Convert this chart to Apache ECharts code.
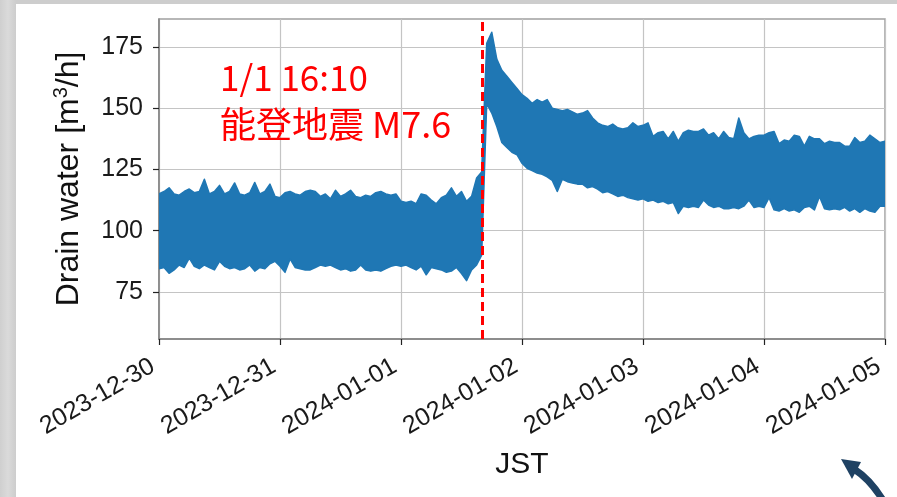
<!DOCTYPE html>
<html>
<head>
<meta charset="utf-8">
<script src="https://cdn.jsdelivr.net/npm/echarts@6/dist/echarts.min.js"></script>
<style>
  html, body { margin: 0; padding: 0; }
  body { width: 897px; height: 497px; position: relative; overflow: hidden;
         background: linear-gradient(90deg, #cfcfcf 0px, #dadada 8px, #cdcdcd 16px); }
  #panel { position: absolute; left: 16px; top: 4px; width: 881px; height: 493px; background: #ffffff; }
  #chart { position: absolute; left: 0; top: 0; width: 897px; height: 497px; }
</style>
</head>
<body>
<div id="panel"></div>
<div id="chart"></div>
<script>
// Drain water flow, hourly min / max, hours counted from 2023-12-30 00:00 JST
const dateTicks = ['2023-12-30', '2023-12-31', '2024-01-01', '2024-01-02', '2024-01-03', '2024-01-04', '2024-01-05'];
const yTicks = [75, 100, 125, 150, 175];
const yMin = 55.8;
const yMax = 186.4;
const quakeHour = 64 + 10 / 60; // 2024-01-01 16:10

const hiValues = [
  115, 116, 117.5, 115, 114.5, 116, 117, 115.5, 116, 121,
  115, 116, 118.5, 115, 116, 119.5, 115, 114.5, 115.5, 119.7,
  115, 116, 119, 114, 113.5, 115.5, 116, 115, 114.5, 116,
  116.5, 116, 114, 115, 113, 116.5, 114, 115, 116.5, 114,
  113.5, 114.5, 114, 115.5, 116, 115, 114.5, 115, 112, 111.5,
  112, 111, 115, 114.5, 112.5, 111, 113.5, 114.5, 117.5, 114,
  116, 112, 114, 121.5, 124,
  176.5, 181, 170, 165.5, 163, 160.5, 158, 155.5, 154, 152,
  153.5, 152.5, 153.5, 150, 149.5, 149, 149.5, 148.5, 147.5, 148,
  149, 146, 144, 143, 142.5, 143.5, 142, 141.5, 142, 144,
  142.5, 143, 144, 138.5, 140, 140.5, 137.5, 140.5, 136.5, 140,
  141, 140.5, 140.5, 141.5, 139, 140, 137.5, 140.5, 138, 137.5,
  146, 140, 137.5, 138.5, 139, 139, 140, 140.5, 135.5, 137,
  136.5, 139, 138.5, 134.5, 138.5, 137.5, 137.5, 135.5, 136.5, 136,
  136, 134.5, 134.5, 138, 136, 136.5, 139, 137.5, 136, 136.5
];

const loValues = [
  84.5, 85, 82.6, 84, 86, 85, 88.8, 85.5, 84.5, 86,
  85, 84, 87.5, 85.5, 84.5, 85, 84, 84.5, 86, 83.5,
  85, 84.5, 86.5, 87.5, 85.5, 83, 88.5, 85, 84.5, 84,
  84, 85, 86, 85.5, 86, 85, 84, 84.5, 83.5, 84,
  86, 84, 83.5, 84, 83.5, 84.5, 85.5, 86, 85.5, 86,
  85, 84, 85.5, 82, 85, 84.5, 84, 83, 83.5, 85,
  82.5, 79.6, 84, 86, 90,
  152, 148, 142.5, 136, 134, 132, 131, 127.5, 125.5, 124.5,
  123.5, 123, 122, 120.5, 116, 121, 120, 119.5, 119, 119,
  117.5, 118, 117, 115.5, 116, 115, 114, 114.5, 113.5, 113,
  112.5, 113, 112, 112.5, 111.5, 112, 111, 111.5, 107, 110,
  109.5, 110, 109.5, 112.5, 110.5, 109.5, 110, 109, 109, 109.5,
  109, 110, 112.5, 109.5, 110, 109.5, 113.5, 108.5, 108, 109,
  108, 108.5, 107.5, 109.5, 110, 108.5, 114, 109, 108.5, 109,
  108.5, 109.5, 108, 109, 107.5, 109, 108, 107.5, 110, 110
];

const lineBlue = '#1f77b4';
const bandData = hiValues.map((h, i) => [i, loValues[i], h]);

const chart = echarts.init(document.getElementById('chart'), null, { renderer: 'canvas' });

const tickFont = { fontFamily: 'Liberation Sans', fontSize: 25, color: '#1a1a1a' };

// The min/max envelope is drawn as a single filled polygon: upper edge left to right,
// lower edge back right to left.
function renderBand(params, api) {
  if (params.dataIndex !== 0) return null;
  const upper = bandData.map(d => api.coord([d[0], d[2]]));
  const lower = bandData.map(d => api.coord([d[0], d[1]])).reverse();
  return {
    type: 'polygon',
    shape: { points: upper.concat(lower) },
    style: { fill: lineBlue, stroke: lineBlue, lineWidth: 1.5, lineJoin: 'round' }
  };
}

chart.setOption({
  animation: false,
  backgroundColor: 'transparent',
  grid: {
    left: 159, right: 12, top: 19, bottom: 158,
    show: true, borderColor: '#a0a0a0', borderWidth: 1.5, backgroundColor: 'transparent'
  },
  xAxis: {
    type: 'value', min: 0, max: 144, interval: 24,
    name: 'JST', nameLocation: 'middle', nameGap: 111,
    nameTextStyle: { fontFamily: 'Liberation Sans', fontSize: 30, color: '#111' },
    axisLine: { show: true, lineStyle: { color: '#808080', width: 1.5 } },
    axisTick: { show: true, length: 6, lineStyle: { color: '#222', width: 1.2 } },
    axisLabel: Object.assign({
      rotate: 30, margin: 22, padding: [0, 7, 0, 0],
      formatter: v => dateTicks[Math.round(v / 24)]
    }, tickFont),
    splitLine: { show: true, lineStyle: { color: '#c4c4c4', width: 1.2 } }
  },
  yAxis: {
    type: 'value', min: yMin, max: yMax,
    name: 'Drain water [m{sup|3}/h]', nameLocation: 'middle', nameGap: 72, nameRotate: 90,
    nameTextStyle: {
      fontFamily: 'Liberation Sans', fontSize: 32, color: '#111',
      rich: { sup: { fontFamily: 'Liberation Sans', fontSize: 20, color: '#111', verticalAlign: 'top', lineHeight: 36 } }
    },
    axisLine: { show: true, lineStyle: { color: '#808080', width: 1.5 } },
    axisTick: { show: true, length: 6, customValues: yTicks, lineStyle: { color: '#222', width: 1.2 } },
    axisLabel: Object.assign({ margin: 16, customValues: yTicks }, tickFont),
    splitLine: { show: true, lineStyle: { color: '#c4c4c4', width: 1.2 } }
  },
  series: [
    {
      type: 'custom',
      clip: true,
      data: bandData,
      encode: { x: 0, y: [1, 2] },
      renderItem: renderBand,
      z: 2
    },
    {
      type: 'line',
      data: [[quakeHour, yMin], [quakeHour, yMax]],
      symbol: 'none',
      lineStyle: { color: '#ff0000', width: 3, type: [9, 5] },
      z: 5
    }
  ],
  graphic: [
    {
      type: 'text', x: 220, y: 78, z: 10,
      style: { text: '1/1 16:10', fontSize: 35, fontFamily: 'Noto Sans CJK JP', fill: '#ff0000', align: 'left', verticalAlign: 'middle' }
    },
    {
      type: 'text', x: 220, y: 124, z: 10,
      style: { text: '能登地震 M7.6', fontSize: 36, fontFamily: 'Noto Sans CJK JP', fill: '#ff0000', align: 'left', verticalAlign: 'middle' }
    },
    {
      type: 'bezierCurve', z: 10, silent: true,
      shape: { x1: 854, y1: 469, x2: 884, y2: 502, cpx1: 871, cpy1: 480 },
      style: { stroke: '#1f4263', lineWidth: 7, fill: null }
    },
    {
      type: 'polygon', z: 10, silent: true,
      shape: { points: [[841, 459], [861, 462], [852, 479]] },
      style: { fill: '#1f4263' }
    }
  ]
});
</script>
</body>
</html>
